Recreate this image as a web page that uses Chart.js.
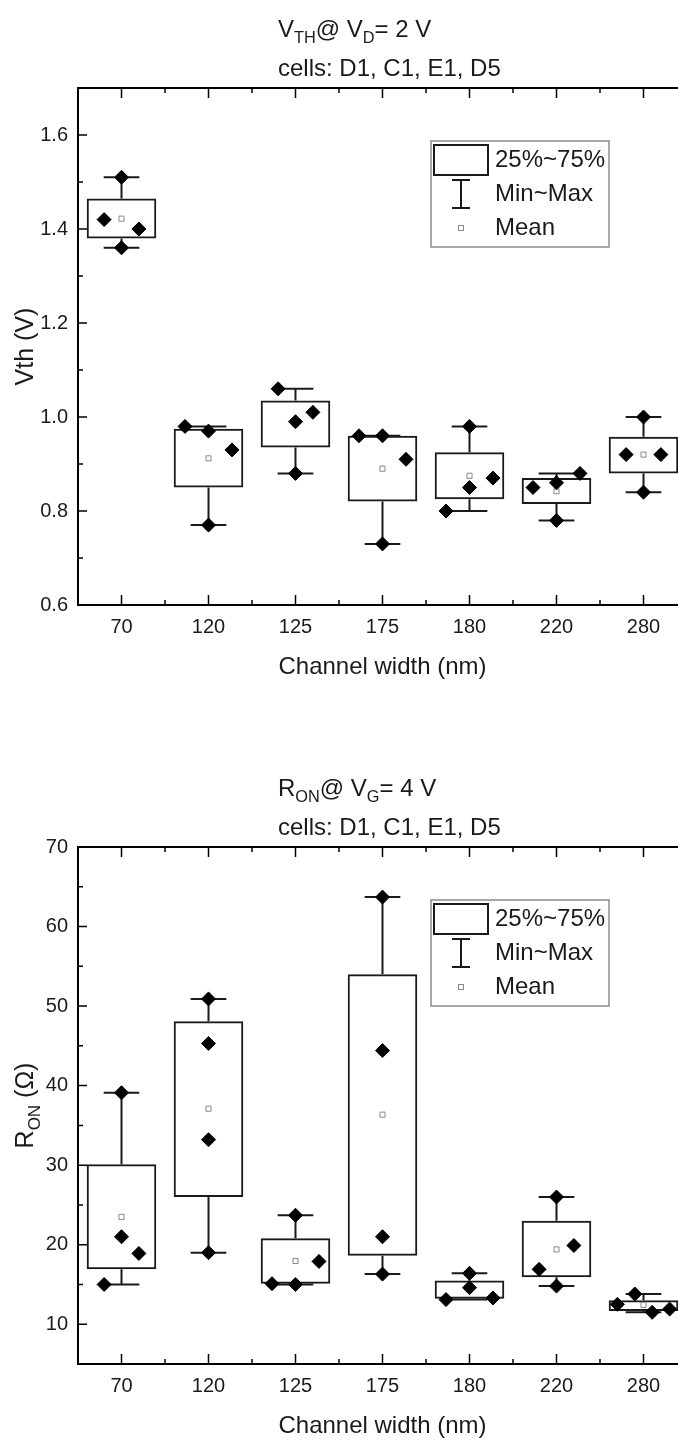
<!DOCTYPE html>
<html>
<head>
<meta charset="utf-8">
<script src="https://cdn.jsdelivr.net/npm/chart.js@4.4.1/dist/chart.umd.min.js"></script>
<style>
  html, body { margin: 0; padding: 0; background: #fff; overflow: hidden; }
  .panel { position: absolute; left: 0; width: 720px; }
  #top-panel { top: 0; height: 759px; }
  #bottom-panel { top: 759px; height: 684px; }
</style>
</head>
<body>
<div class="panel" id="top-panel"><canvas id="vth-chart"></canvas></div>
<div class="panel" id="bottom-panel"><canvas id="ron-chart"></canvas></div>
<script>
// channel widths (nm) - x categories
const widths = ["70", "120", "125", "175", "180", "220", "280"];

// Vth @ Vd = 2 V
const vthTicks = [0.6, 0.8, 1.0, 1.2, 1.4, 1.6];
const vthBoxLow = [1.38, 0.85, 0.935, 0.82, 0.825, 0.815, 0.88];
const vthBoxHigh = [1.465, 0.975, 1.035, 0.96, 0.925, 0.87, 0.958];
const vthMin = [1.36, 0.77, 0.88, 0.73, 0.80, 0.78, 0.84];
const vthMax = [1.51, 0.98, 1.06, 0.96, 0.98, 0.88, 1.00];
const vthMean = [1.422, 0.912, 0.985, 0.89, 0.875, 0.842, 0.92];
const vthPoints = [
  [1.42, 1.51, 1.40, 1.36],
  [0.98, 0.97, 0.93, 0.77],
  [1.06, 0.99, 1.01, 0.88],
  [0.96, 0.96, 0.91, 0.73],
  [0.80, 0.85, 0.87, 0.98],
  [0.85, 0.86, 0.88, 0.78],
  [0.92, 1.00, 0.92, 0.84],
];
// horizontal spread of the cell points inside each box
const vthJitter = [
  [-0.2, 0, 0.2, 0],
  [-0.27, 0, 0.27, 0],
  [-0.2, 0, 0.2, 0],
  [-0.27, 0, 0.27, 0],
  [-0.27, 0, 0.27, 0],
  [-0.27, 0, 0.27, 0],
  [-0.2, 0, 0.2, 0],
];

// Ron @ Vg = 4 V
const ronTicks = [10, 20, 30, 40, 50, 60, 70];
const ronBoxLow = [16.9, 26.0, 15.1, 18.6, 13.2, 15.9, 11.65];
const ronBoxHigh = [30.1, 48.1, 20.8, 54.0, 15.5, 23.0, 13.0];
const ronMin = [15.0, 19.0, 15.0, 16.3, 13.1, 14.8, 11.5];
const ronMax = [39.1, 50.9, 23.7, 63.7, 16.4, 26.0, 13.8];
const ronMean = [23.5, 37.1, 17.95, 36.35, 14.35, 19.4, 12.43];
const ronPoints = [
  [15.0, 21.0, 18.9, 39.1],
  [50.9, 45.3, 33.2, 19.0],
  [15.1, 23.7, 17.9, 15.0],
  [63.7, 44.4, 21.0, 16.3],
  [13.1, 16.4, 13.3, 14.6],
  [16.9, 26.0, 19.9, 14.8],
  [12.5, 13.8, 11.5, 11.9],
];
const ronJitter = [
  [-0.2, 0, 0.2, 0],
  [0, 0, 0, 0],
  [-0.27, 0, 0.27, 0],
  [0, 0, 0, 0],
  [-0.27, 0, 0.27, 0],
  [-0.2, 0, 0.2, 0],
  [-0.3, -0.1, 0.1, 0.3],
];

const FONT = "'Liberation Sans', Arial, sans-serif";

function richWidth(ctx, parts, size) {
  let w = 0;
  parts.forEach(([txt, sub]) => {
    ctx.font = (sub ? size * 0.68 : size) + "px " + FONT;
    w += ctx.measureText(txt).width;
  });
  return w;
}

function drawRich(ctx, parts, x, y, size) {
  let cx = x;
  parts.forEach(([txt, sub]) => {
    ctx.font = (sub ? size * 0.68 : size) + "px " + FONT;
    ctx.fillText(txt, cx, sub ? y + size * 0.26 : y);
    cx += ctx.measureText(txt).width;
  });
}

function boxExtras(cfg) {
  return {
    id: "boxExtras",
    beforeDatasetsDraw(chart) {
      const { ctx, scales: { x, y } } = chart;
      ctx.save();
      ctx.strokeStyle = "#1a1a1a";
      ctx.lineWidth = 2;
      cfg.low.forEach((lo, i) => {
        const px = x.getPixelForValue(i);
        const cap = x.getPixelForValue(i + 0.205) - px;
        const yMax = y.getPixelForValue(cfg.max[i]);
        const yMin = y.getPixelForValue(cfg.min[i]);
        ctx.beginPath();
        ctx.moveTo(px, y.getPixelForValue(cfg.high[i]));
        ctx.lineTo(px, yMax);
        ctx.moveTo(px - cap, yMax);
        ctx.lineTo(px + cap, yMax);
        ctx.moveTo(px, y.getPixelForValue(lo));
        ctx.lineTo(px, yMin);
        ctx.moveTo(px - cap, yMin);
        ctx.lineTo(px + cap, yMin);
        ctx.stroke();
      });
      ctx.restore();
    },
    afterDatasetsDraw(chart) {
      const { ctx, chartArea: a, scales: { x, y } } = chart;
      ctx.save();

      // frame
      ctx.strokeStyle = "#000";
      ctx.lineWidth = 2;
      ctx.strokeRect(a.left, a.top, a.right - a.left, a.bottom - a.top);

      // inward ticks
      ctx.lineWidth = 1.5;
      ctx.beginPath();
      x.ticks.forEach((t, i) => {
        const px = x.getPixelForValue(t.value);
        ctx.moveTo(px, a.bottom); ctx.lineTo(px, a.bottom - 10);
        ctx.moveTo(px, a.top); ctx.lineTo(px, a.top + 10);
        if (i < x.ticks.length - 1) {
          const mx = x.getPixelForValue(t.value + 0.5);
          ctx.moveTo(mx, a.bottom); ctx.lineTo(mx, a.bottom - 5);
          ctx.moveTo(mx, a.top); ctx.lineTo(mx, a.top + 5);
        }
      });
      y.ticks.forEach((t, i) => {
        const py = y.getPixelForValue(t.value);
        ctx.moveTo(a.left, py); ctx.lineTo(a.left + 9, py);
        ctx.moveTo(a.right, py); ctx.lineTo(a.right - 9, py);
        if (i < y.ticks.length - 1) {
          const my = y.getPixelForValue((t.value + y.ticks[i + 1].value) / 2);
          ctx.moveTo(a.left, my); ctx.lineTo(a.left + 5, my);
          ctx.moveTo(a.right, my); ctx.lineTo(a.right - 5, my);
        }
      });
      ctx.stroke();

      // legend
      const L = a.left, T = a.top;
      ctx.strokeStyle = "#8c8c8c";
      ctx.lineWidth = 1.5;
      ctx.strokeRect(L + 353, T + 53, 178, 106);
      ctx.strokeStyle = "#1a1a1a";
      ctx.lineWidth = 2;
      ctx.strokeRect(L + 356, T + 57, 54, 30);
      ctx.beginPath();
      ctx.moveTo(L + 383, T + 92); ctx.lineTo(L + 383, T + 120);
      ctx.moveTo(L + 374, T + 92); ctx.lineTo(L + 392, T + 92);
      ctx.moveTo(L + 374, T + 120); ctx.lineTo(L + 392, T + 120);
      ctx.stroke();
      ctx.strokeStyle = "#888";
      ctx.lineWidth = 1;
      ctx.fillStyle = "#fff";
      ctx.fillRect(L + 380.5, T + 137.5, 5, 5);
      ctx.strokeRect(L + 380.5, T + 137.5, 5, 5);
      ctx.fillStyle = "#1a1a1a";
      ctx.font = "24px " + FONT;
      ctx.textBaseline = "middle";
      ctx.textAlign = "left";
      ctx.fillText("25%~75%", L + 417, T + 72);
      ctx.fillText("Min~Max", L + 417, T + 106);
      ctx.fillText("Mean", L + 417, T + 140);

      // chart title (two lines, with subscripts)
      ctx.textBaseline = "alphabetic";
      drawRich(ctx, cfg.title, L + 200, T - 51, 24);
      ctx.font = "24px " + FONT;
      ctx.fillText("cells: D1, C1, E1, D5", L + 200, T - 12);

      // y axis title, rotated
      const w = richWidth(ctx, cfg.yTitle, 25);
      ctx.translate(25, (a.top + a.bottom) / 2);
      ctx.rotate(-Math.PI / 2);
      drawRich(ctx, cfg.yTitle, -w / 2, 8, 25);
      ctx.restore();
    },
  };
}

function makeChart(canvasId, d) {
  const diamonds = [];
  d.points.forEach((vals, i) => {
    vals.forEach((v, k) => diamonds.push({ x: i + d.jitter[i][k], y: v }));
  });
  return new Chart(document.getElementById(canvasId), {
    type: "bar",
    data: {
      datasets: [
        {
          type: "scatter",
          data: diamonds,
          pointStyle: "rectRot",
          pointRadius: 7,
          backgroundColor: "#000",
          borderColor: "#000",
          borderWidth: 1,
          order: 0,
        },
        {
          type: "scatter",
          data: d.mean.map((v, i) => ({ x: i, y: v })),
          pointStyle: "rect",
          pointRadius: 3.6,
          backgroundColor: "#fff",
          borderColor: "#888",
          borderWidth: 1,
          order: 1,
        },
        {
          type: "bar",
          data: d.low.map((lo, i) => ({ x: i, y: [lo, d.high[i]] })),
          backgroundColor: "rgba(255,255,255,0)",
          borderColor: "#1a1a1a",
          borderWidth: 2,
          borderSkipped: false,
          barPercentage: 0.8,
          categoryPercentage: 1.0,
          order: 2,
        },
      ],
    },
    options: {
      responsive: true,
      maintainAspectRatio: false,
      animation: false,
      devicePixelRatio: 1,
      layout: { padding: { left: 0, top: 88, right: 33, bottom: d.padBottom } },
      plugins: { legend: { display: false }, tooltip: { enabled: false } },
      scales: {
        x: {
          type: "linear",
          offset: false,
          min: -0.5,
          max: 6.5,
          grid: { display: false, drawTicks: false, offset: false },
          border: { display: false },
          afterBuildTicks: (s) => { s.ticks = widths.map((w, i) => ({ value: i })); },
          afterFit: (s) => { s.height = 79; },
          ticks: {
            padding: 10,
            color: "#1a1a1a",
            font: { family: FONT, size: 20 },
            callback: (v) => widths[v],
          },
          title: {
            display: true,
            text: "Channel width (nm)",
            color: "#1a1a1a",
            font: { family: FONT, size: 24 },
            padding: { top: 0, bottom: 2 },
          },
        },
        y: {
          min: d.yMin,
          max: d.yMax,
          grid: { display: false, drawTicks: false },
          border: { display: false },
          afterBuildTicks: (s) => { s.ticks = d.ticks.map((v) => ({ value: v })); },
          afterFit: (s) => { s.width = 78; },
          ticks: {
            padding: 10,
            color: "#1a1a1a",
            font: { family: FONT, size: 20 },
            callback: (v) => (d.decimals ? Number(v).toFixed(d.decimals) : String(v)),
          },
        },
      },
    },
    plugins: [boxExtras(d)],
  });
}

makeChart("vth-chart", {
  low: vthBoxLow, high: vthBoxHigh, min: vthMin, max: vthMax, mean: vthMean,
  points: vthPoints, jitter: vthJitter, ticks: vthTicks,
  yMin: 0.6, yMax: 1.7, decimals: 1, padBottom: 75,
  title: [["V", false], ["TH", true], ["@ V", false], ["D", true], ["= 2 V", false]],
  yTitle: [["Vth (V)", false]],
});

makeChart("ron-chart", {
  low: ronBoxLow, high: ronBoxHigh, min: ronMin, max: ronMax, mean: ronMean,
  points: ronPoints, jitter: ronJitter, ticks: ronTicks,
  yMin: 5, yMax: 70, decimals: 0, padBottom: 0,
  title: [["R", false], ["ON", true], ["@ V", false], ["G", true], ["= 4 V", false]],
  yTitle: [["R", false], ["ON", true], [" (\u03A9)", false]],
});
</script>
</body>
</html>
